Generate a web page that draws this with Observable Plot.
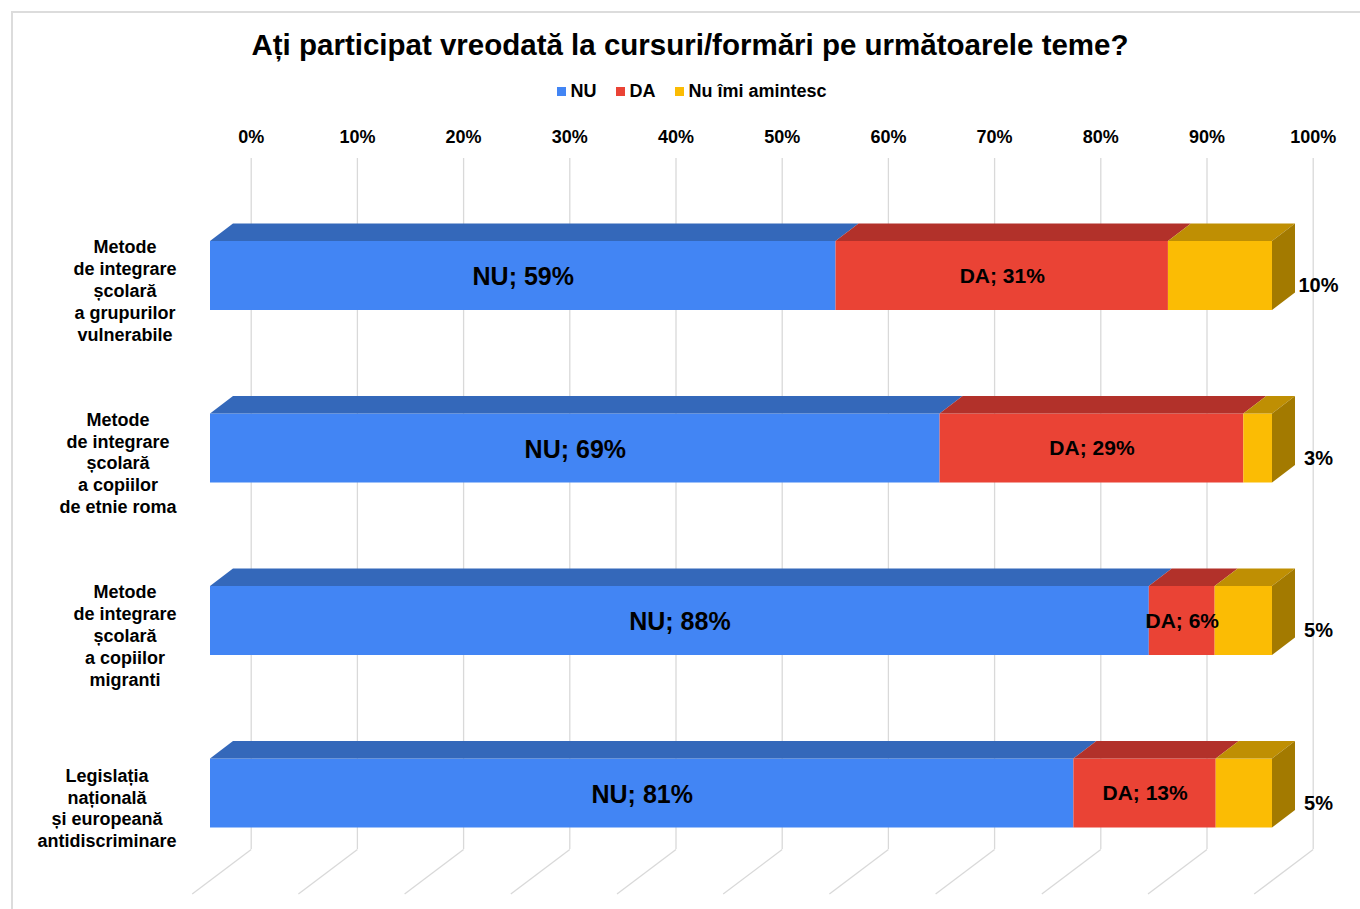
<!DOCTYPE html>
<html>
<head>
<meta charset="utf-8">
<script src="https://cdn.jsdelivr.net/npm/d3@7"></script>
<script src="https://cdn.jsdelivr.net/npm/@observablehq/plot@0.6"></script>
<style>
  html, body { margin: 0; padding: 0; background: #fff; overflow: hidden; }
  body { width: 1360px; height: 909px; position: relative; font-family: "Liberation Sans", Arial, sans-serif; }
  #frame { position: absolute; left: 11px; top: 11px; width: 1420px; height: 1000px; border: 2px solid #dcdcdc; box-sizing: border-box; }
  #title { position: absolute; left: 0; width: 1380px; top: 27px; text-align: center; font-weight: bold; font-size: 29.5px; line-height: 36px; color: #000; }
  #legend { position: absolute; left: 0; width: 1384px; top: 80px; display: flex; justify-content: center; gap: 20px; font-weight: bold; font-size: 18px; line-height: 22px; color: #000; }
  #legend .item { display: flex; align-items: center; gap: 4px; }
  #legend .sw { width: 9px; height: 9px; display: inline-block; }
  #chart { position: absolute; left: 0; top: 110px; }
</style>
</head>
<body>
<div id="frame"></div>
<div id="title">Ați participat vreodată la cursuri/formări pe următoarele teme?</div>
<div id="legend"></div>
<div id="chart"></div>
<script>
// ---------- data ----------
const categories = [
  "Metode\nde integrare\nșcolară\na grupurilor\nvulnerabile",
  "Metode\nde integrare\nșcolară\na copiilor\nde etnie roma",
  "Metode\nde integrare\nșcolară\na copiilor\nmigranti",
  "Legislația\nnațională\nși europeană\nantidiscriminare"
];
const seriesNames = ["NU", "DA", "Nu îmi amintesc"];
const nuValues = [58.9, 68.7, 88.4, 81.3];
const daValues = [31.3, 28.6, 6.2, 13.4];
const nuImiAmintescValues = [9.8, 2.7, 5.4, 5.3];
const tickValues = [0, 10, 20, 30, 40, 50, 60, 70, 80, 90, 100];
const tickLabels = ["0%", "10%", "20%", "30%", "40%", "50%", "60%", "70%", "80%", "90%", "100%"];

// ---------- styles ----------
const frontColors = ["#4285F4", "#EA4335", "#FBBC04"];
const topColors = ["#3468BA", "#B2312A", "#BF8F03"];
const sideColor = "#A37A00";
const gridColor = "#d9d9d9";

// ---------- geometry (pixels) ----------
const W = 1360, H = 799;
const X0 = 210, X1 = 1272;          // front face 0% .. 100%
const ROW0 = 165.5, ROWSTEP = 172.5; // front face centre of first bar, spacing
const BAR_H = 69;
const DEPTH_X = 23, DEPTH_Y = -17.5; // bar depth
const WALL_X = 40.7;                 // back wall offset
const WALL_TOP = 48, WALL_BOTTOM = 739, FLOOR_FRONT = 783.5, FLOOR_DX = -59;
const ux = px => px / (X1 - X0);
const uy = px => px / ROWSTEP;
const rowOf = py => (py - ROW0) / ROWSTEP;

// legend
const legend = document.getElementById("legend");
seriesNames.forEach((n, i) => {
  const it = document.createElement("div");
  it.className = "item";
  it.innerHTML = `<span class="sw" style="background:${frontColors[i]}"></span><span>${n}</span>`;
  legend.appendChild(it);
});

// segments
const seriesValues = [nuValues, daValues, nuImiAmintescValues];
const segs = [];
categories.forEach((c, i) => {
  let acc = 0;
  seriesValues.forEach((vals, s) => {
    const v = vals[i];
    segs.push({row: i, s, v, x1: acc / 100, x2: (acc + v) / 100, last: s === seriesValues.length - 1});
    acc += v;
  });
});
const half = uy(BAR_H / 2);
const topPts = [], sidePts = [];
segs.forEach((d, k) => {
  const yt = d.row - half;
  topPts.push({id: k, s: d.s, y: yt, x1: d.x1, x2: d.x2});
  topPts.push({id: k, s: d.s, y: yt + uy(DEPTH_Y), x1: d.x1 + ux(DEPTH_X), x2: d.x2 + ux(DEPTH_X)});
  if (d.last) {
    sidePts.push({id: k, x: d.x2, y1: d.row - half, y2: d.row + half});
    sidePts.push({id: k, x: d.x2 + ux(DEPTH_X), y1: d.row - half + uy(DEPTH_Y), y2: d.row + half + uy(DEPTH_Y)});
  }
});

// category label positions (blocks right-aligned, lines centred)
const ctx = document.createElement("canvas").getContext("2d");
ctx.font = "bold 18px 'Liberation Sans'";
const catData = categories.map((c, i) => {
  const w = Math.max(...c.split("\n").map(l => ctx.measureText(l).width));
  return {row: i, text: c, x: ux(176 - w / 2 - X0)};
});

const marks = [
  // back wall gridlines
  Plot.ruleX(tickValues, {x: d => d / 100, y1: () => rowOf(WALL_TOP), y2: () => rowOf(WALL_BOTTOM), dx: WALL_X, stroke: gridColor, strokeWidth: 1.3}),
  // floor lines
  Plot.link(tickValues, {x1: d => d / 100 + ux(WALL_X), y1: () => rowOf(WALL_BOTTOM), x2: d => d / 100 + ux(WALL_X + FLOOR_DX), y2: () => rowOf(FLOOR_FRONT), stroke: gridColor, strokeWidth: 1.3}),
  // tick labels
  Plot.text(tickValues, {x: d => d / 100, y: () => rowOf(27), dx: WALL_X, text: (d, i) => tickLabels[i], fontSize: 18, lineAnchor: "middle"})
];
seriesNames.forEach((n, s) => {
  marks.push(Plot.rect(segs.filter(d => d.s === s), {x1: "x1", x2: "x2", y1: d => d.row - half, y2: d => d.row + half, fill: frontColors[s]}));
  marks.push(Plot.areaX(topPts.filter(d => d.s === s), {y: "y", x1: "x1", x2: "x2", z: "id", fill: topColors[s]}));
});
marks.push(Plot.areaY(sidePts, {x: "x", y1: "y1", y2: "y2", z: "id", fill: sideColor}));
// value labels
marks.push(Plot.text(segs.filter(d => d.s === 0), {x: d => (d.x1 + d.x2) / 2, y: "row", dy: 1, text: d => `${seriesNames[0]}; ${Math.round(d.v)}%`, fontSize: 25}));
marks.push(Plot.text(segs.filter(d => d.s === 1), {x: d => (d.x1 + d.x2) / 2, y: "row", dy: 0, text: d => `${seriesNames[1]}; ${Math.round(d.v)}%`, fontSize: 21}));
marks.push(Plot.text(segs.filter(d => d.s === 2), {x: () => 1, y: "row", dx: 46, dy: 10, text: d => `${Math.round(d.v)}%`, fontSize: 20}));
// category labels
marks.push(Plot.text(catData, {x: "x", y: "row", dy: 14, text: "text", fontSize: 18, lineHeight: 1.21, textAnchor: "middle", lineAnchor: "middle"}));

const chart = Plot.plot({
  width: W,
  height: H,
  marginLeft: X0,
  marginRight: W - X1,
  marginTop: 0,
  marginBottom: 0,
  x: {type: "linear", domain: [0, 1], range: [X0, X1], axis: null},
  y: {type: "linear", domain: [0, 1], range: [ROW0, ROW0 + ROWSTEP], axis: null},
  style: {fontFamily: "'Liberation Sans', Arial, sans-serif", fontWeight: "bold", color: "#000", background: "transparent", overflow: "visible"},
  marks
});
document.getElementById("chart").appendChild(chart);
</script>
</body>
</html>
